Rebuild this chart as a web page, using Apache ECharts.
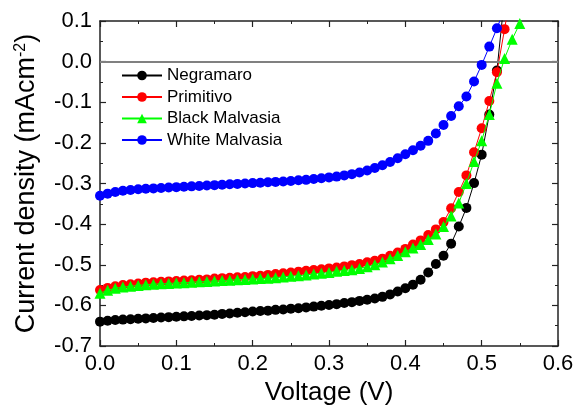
<!DOCTYPE html>
<html>
<head>
<meta charset="utf-8">
<script src="https://cdn.jsdelivr.net/npm/echarts@6/dist/echarts.min.js"></script>
<style>
  html, body { margin: 0; padding: 0; background: #fff; }
  #chart { width: 577px; height: 405px; }
</style>
</head>
<body>
<div id="chart"></div>
<script>
// voltage steps (V), shared by all curves
const voltage = [
  0.00, 0.01, 0.02, 0.03, 0.04, 0.05, 0.06, 0.07, 0.08, 0.09,
  0.10, 0.11, 0.12, 0.13, 0.14, 0.15, 0.16, 0.17, 0.18, 0.19,
  0.20, 0.21, 0.22, 0.23, 0.24, 0.25, 0.26, 0.27, 0.28, 0.29,
  0.30, 0.31, 0.32, 0.33, 0.34, 0.35, 0.36, 0.37, 0.38, 0.39,
  0.40, 0.41, 0.42, 0.43, 0.44, 0.45, 0.46, 0.47, 0.48, 0.49,
  0.50, 0.51, 0.52, 0.53, 0.54, 0.55, 0.56
]

const seriesNames = ['Negramaro', 'Primitivo', 'Black Malvasia', 'White Malvasia']

// current density (mA cm-2)
const negramaro = [
  -0.640, -0.638, -0.636, -0.635, -0.634, -0.633, -0.632, -0.631, -0.630, -0.629,
  -0.628, -0.627, -0.626, -0.625, -0.624, -0.623, -0.621, -0.620, -0.618, -0.617,
  -0.615, -0.614, -0.613, -0.611, -0.610, -0.608, -0.607, -0.605, -0.603, -0.601,
  -0.599, -0.597, -0.594, -0.592, -0.589, -0.586, -0.583, -0.579, -0.573, -0.566,
  -0.558, -0.549, -0.537, -0.519, -0.498, -0.478, -0.448, -0.406, -0.360, -0.299,
  -0.229, -0.130, -0.022, 0.160
]
const primitivo = [
  -0.562, -0.557, -0.553, -0.550, -0.548, -0.546, -0.544, -0.543, -0.542, -0.541,
  -0.540, -0.539, -0.538, -0.537, -0.536, -0.534, -0.533, -0.532, -0.531, -0.530,
  -0.528, -0.527, -0.525, -0.523, -0.521, -0.519, -0.517, -0.515, -0.513, -0.511,
  -0.509, -0.507, -0.504, -0.501, -0.498, -0.494, -0.490, -0.485, -0.478, -0.470,
  -0.461, -0.450, -0.440, -0.427, -0.413, -0.395, -0.361, -0.321, -0.280, -0.223,
  -0.164, -0.097, -0.026, 0.080, 0.190
]
const blackMalvasia = [
  -0.570, -0.563, -0.558, -0.555, -0.553, -0.551, -0.549, -0.548, -0.547, -0.546,
  -0.545, -0.544, -0.543, -0.542, -0.541, -0.540, -0.539, -0.538, -0.537, -0.536,
  -0.535, -0.534, -0.533, -0.532, -0.530, -0.528, -0.527, -0.525, -0.523, -0.521,
  -0.519, -0.516, -0.514, -0.512, -0.509, -0.505, -0.500, -0.493, -0.485, -0.477,
  -0.468, -0.459, -0.450, -0.438, -0.424, -0.406, -0.380, -0.348, -0.300, -0.246,
  -0.195, -0.130, -0.053, 0.008, 0.055, 0.094, 0.140
]
const whiteMalvasia = [
  -0.330, -0.325, -0.321, -0.318, -0.316, -0.314, -0.313, -0.312, -0.311, -0.310,
  -0.309, -0.308, -0.307, -0.306, -0.305, -0.304, -0.303, -0.302, -0.301, -0.300,
  -0.299, -0.298, -0.297, -0.296, -0.295, -0.294, -0.292, -0.291, -0.289, -0.287,
  -0.285, -0.283, -0.280, -0.277, -0.273, -0.268, -0.262, -0.255, -0.247, -0.238,
  -0.228, -0.218, -0.207, -0.195, -0.177, -0.156, -0.134, -0.110, -0.086, -0.049,
  -0.008, 0.037, 0.082, 0.130
]

const font = 'Arial, "Liberation Sans", sans-serif'
const axisColor = '#222'

function pairUp(values) {
  return values.map((j, i) => [voltage[i], j])
}

function frameAxis(extra) {
  return Object.assign({
    type: 'value',
    axisLine: { show: true, onZero: false, lineStyle: { color: axisColor, width: 1.5 } },
    axisTick: { show: true, inside: true, length: 6, lineStyle: { color: axisColor, width: 1.2 } },
    minorTick: { show: true, splitNumber: 2, length: 3, lineStyle: { color: axisColor, width: 1 } },
    splitLine: { show: false },
    minorSplitLine: { show: false }
  }, extra)
}

const chart = echarts.init(document.getElementById('chart'))

const lineSeries = [
  { data: negramaro, color: '#000000', symbol: 'circle' },
  { data: primitivo, color: '#ff0000', symbol: 'circle' },
  { data: blackMalvasia, color: '#00ff00', symbol: 'triangle' },
  { data: whiteMalvasia, color: '#0000ff', symbol: 'circle' }
].map((s, idx) => ({
  name: seriesNames[idx],
  type: 'line',
  data: pairUp(s.data),
  clip: true,
  symbol: s.symbol,
  symbolSize: s.symbol === 'triangle' ? 11 : 10,
  showAllSymbol: true,
  itemStyle: { color: s.color },
  lineStyle: { color: s.color, width: 1 },
  z: 3 + idx
}))

// grey zero line
lineSeries[0].markLine = {
  silent: true,
  symbol: 'none',
  label: { show: false },
  lineStyle: { color: '#808080', width: 2, type: 'solid' },
  data: [{ yAxis: 0 }]
}

chart.setOption({
  animation: false,
  backgroundColor: '#fff',
  grid: { left: 100, right: 19, top: 21, bottom: 59, containLabel: false, outerBoundsMode: 'none' },
  legend: {
    orient: 'vertical',
    left: 116,
    top: 62,
    itemWidth: 40,
    itemHeight: 12,
    itemGap: 4.5,
    textStyle: { fontFamily: font, fontSize: 17, color: '#000', lineHeight: 17 },
    data: seriesNames
  },
  xAxis: [
    frameAxis({
      position: 'bottom',
      min: 0,
      max: 0.6,
      interval: 0.1,
      name: 'Voltage (V)',
      nameLocation: 'middle',
      nameGap: 26,
      nameTextStyle: { fontFamily: font, fontSize: 26, color: '#000' },
      axisLabel: {
        fontFamily: font, fontSize: 22, color: '#000', margin: 7,
        formatter: v => v.toFixed(1)
      }
    }),
    frameAxis({
      position: 'top',
      min: 0,
      max: 0.6,
      interval: 0.1,
      axisLabel: { show: false }
    })
  ],
  yAxis: [
    frameAxis({
      position: 'left',
      min: -0.7,
      max: 0.1,
      interval: 0.1,
      name: 'Current density (mAcm{sup|-2})',
      nameLocation: 'middle',
      nameRotate: 90,
      nameGap: 59,
      nameTextStyle: {
        fontFamily: font, fontSize: 27, color: '#000',
        rich: { sup: { fontFamily: font, fontSize: 16, color: '#000', verticalAlign: 'top', padding: [0, 0, 12, 0] } }
      },
      axisLabel: {
        fontFamily: font, fontSize: 22, color: '#000', margin: 8,
        formatter: v => v.toFixed(1)
      }
    }),
    frameAxis({
      position: 'right',
      min: -0.7,
      max: 0.1,
      interval: 0.1,
      axisLabel: { show: false }
    })
  ],
  series: lineSeries
})
</script>
</body>
</html>
